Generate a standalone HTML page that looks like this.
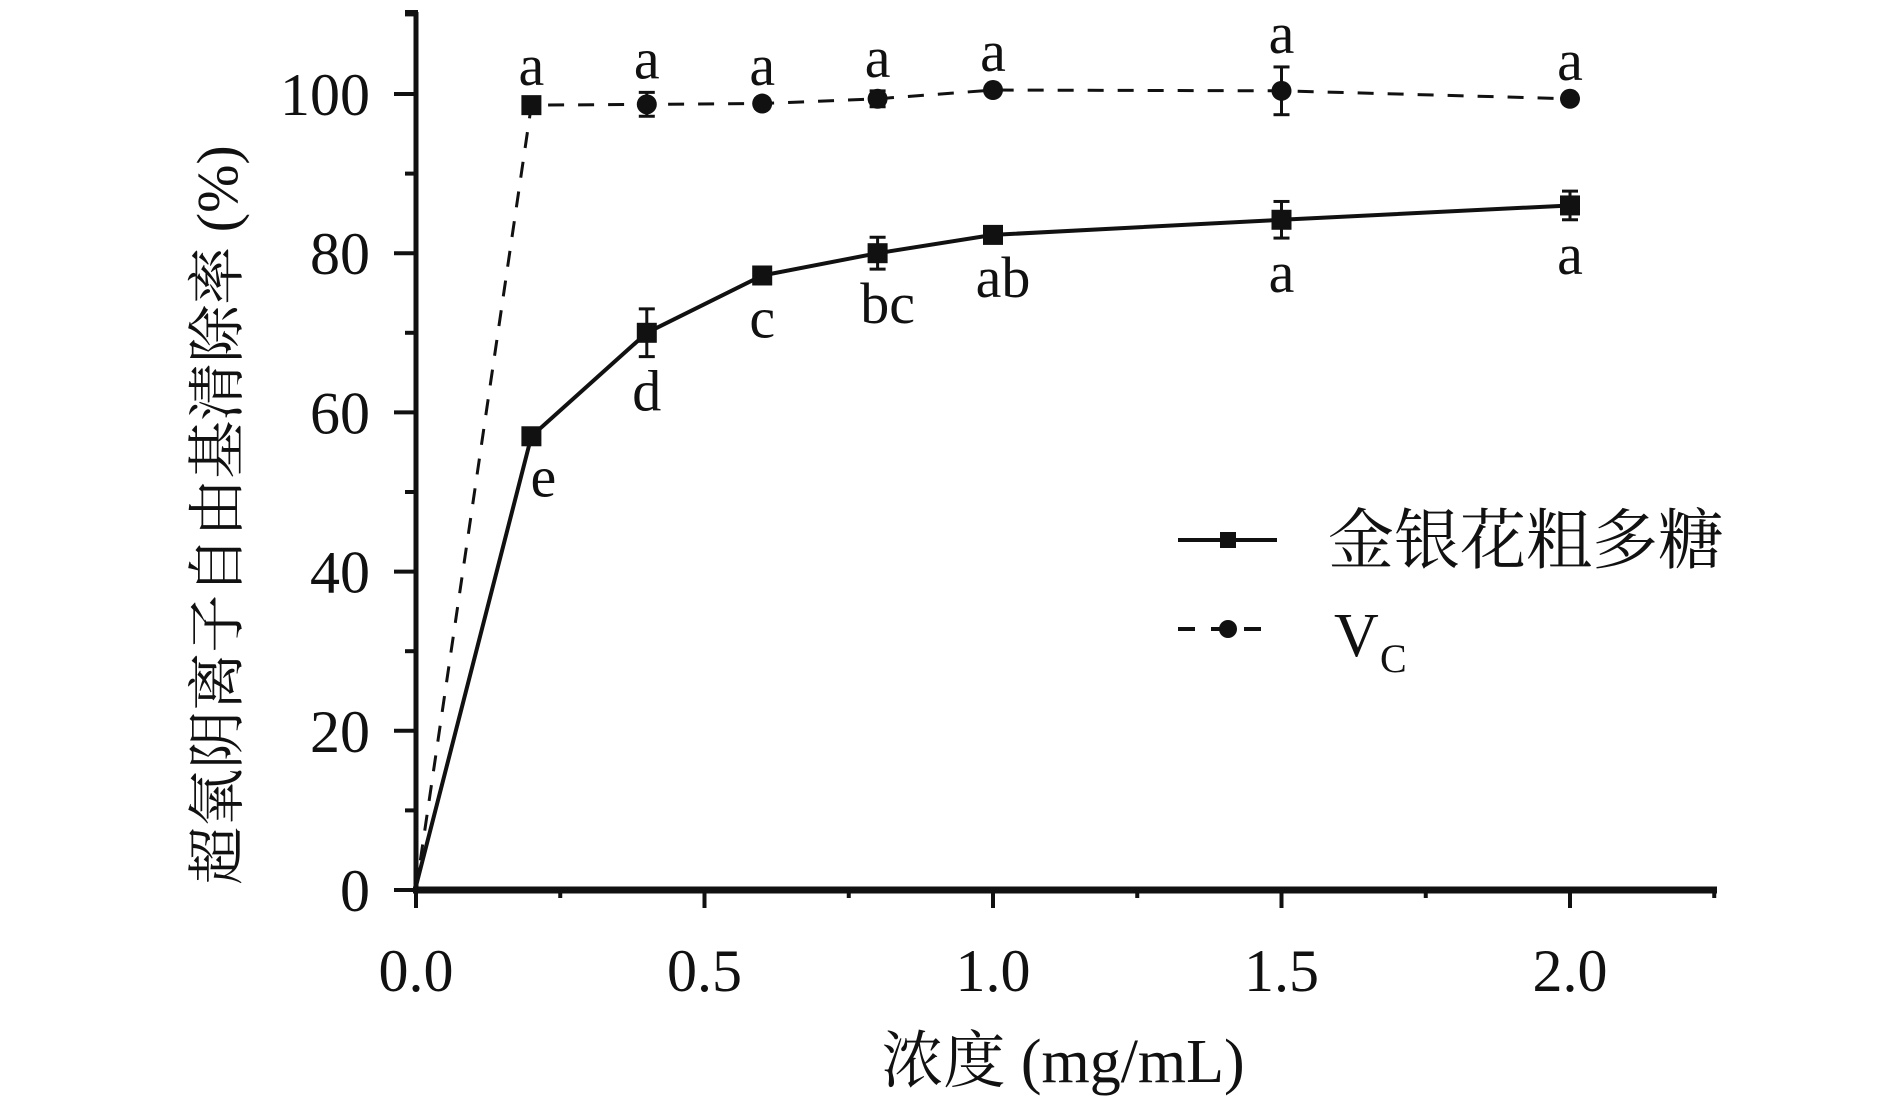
<!DOCTYPE html>
<html><head><meta charset="utf-8"><style>
html,body{margin:0;padding:0;background:#fff;}
svg{display:block;font-family:"Liberation Serif","Noto Serif CJK SC",serif;}
</style></head><body>
<svg id="chart" width="1890" height="1098" viewBox="0 0 1890 1098" xmlns="http://www.w3.org/2000/svg"></svg>
<script>
const xValues = [0, 0.2, 0.4, 0.6, 0.8, 1.0, 1.5, 2.0];
const polyValues = [0.5, 57, 70, 77.2, 80, 82.3, 84.2, 86];
const polyErr = [0, 0.8, 3, 1, 2, 1, 2.3, 1.8];
const polyLetters = ["", "e", "d", "c", "bc", "ab", "a", "a"];
const vcValues = [0, 98.6, 98.7, 98.8, 99.4, 100.5, 100.4, 99.4];
const vcErr = [0, 0.8, 1.5, 0.6, 1, 0.6, 3, 0.6];
const vcLetters = ["", "a", "a", "a", "a", "a", "a", "a"];
const xTicks = [0, 0.5, 1.0, 1.5, 2.0];
const xTickLabels = ["0.0", "0.5", "1.0", "1.5", "2.0"];
const yTicks = [0, 20, 40, 60, 80, 100];
const yTickLabels = ["0", "20", "40", "60", "80", "100"];

const svg = document.getElementById('chart');
const NS = 'http://www.w3.org/2000/svg';
function X(v){ return 416 + 577*v; }
function Y(v){ return 890 - 7.96*v; }
function mk(tag, attrs, parent){
  const e = document.createElementNS(NS, tag);
  for (const k in attrs) e.setAttribute(k, attrs[k]);
  (parent||svg).appendChild(e);
  return e;
}
function txt(s, x, y, size, anchor, parent){
  const t = mk('text', {x:x, y:y, 'font-size':size, 'text-anchor':anchor||'middle', fill:'#111'}, parent);
  t.textContent = s;
  return t;
}
const yAxis = mk('line', {x1:416, y1:12, x2:416, y2:893, stroke:'#111', 'stroke-width':5});


const xAxis = mk('line', {x1:413, y1:890, x2:1717, y2:890, stroke:'#111', 'stroke-width':7});


mk('line', {x1:405, y1:12, x2:418, y2:12, stroke:'#111', 'stroke-width':4});
for (let v = 0; v <= 110; v += 10) {
  const major = v % 20 === 0;
  mk('line', {x1: major ? 394 : 405, y1: Y(v), x2: 416, y2: Y(v), stroke:'#111', 'stroke-width':4});
}
yTicks.forEach((v,i)=>{
  const t = txt(yTickLabels[i], 370, Y(v)+21, 60, 'end');
  
  
});
for (let v = 0; v <= 2.25; v += 0.25) {
  const major = Math.abs(v*2 - Math.round(v*2)) < 1e-6;
  mk('line', {x1: X(v), y1: 890, x2: X(v), y2: major ? 908 : 898, stroke:'#111', 'stroke-width':4});
}
xTicks.forEach((v,i)=>{
  const t = txt(xTickLabels[i], X(v), 991, 60, 'middle');
  
  
});
const xt = txt('浓度 (mg/mL)', 1063, 1082, 62, 'middle');


const yt = txt('超氧阴离子自由基清除率 (%)', 0, 0, 58, 'middle');
yt.setAttribute('transform', 'translate(237,515) rotate(-90)');



function series(vals, errs, name, dashed, square, letters, above){
  const g = mk('g', {});
  
  
  const pts = xValues.map((x,i)=>X(x)+','+Y(vals[i])).join(' ');
  const line = mk('polyline', {points:pts, fill:'none', stroke:'#111', 'stroke-width': dashed?3:4, 'stroke-dasharray': dashed?'16,14':'none'}, g);
  
  
  xValues.forEach((x,i)=>{
    if (i === 0) return;
    const cx = X(x), cy = Y(vals[i]);
    if (errs[i] > 0) {
      const y1 = Y(vals[i]+errs[i]), y2 = Y(vals[i]-errs[i]);
      mk('line', {x1:cx, y1:y1, x2:cx, y2:y2, stroke:'#111', 'stroke-width':3}, g);
      mk('line', {x1:cx-8, y1:y1, x2:cx+8, y2:y1, stroke:'#111', 'stroke-width':3}, g);
      mk('line', {x1:cx-8, y1:y2, x2:cx+8, y2:y2, stroke:'#111', 'stroke-width':3}, g);
    }
    let m;
    if (square || i === 1) m = mk('rect', {x:cx-10, y:cy-10, width:20, height:20, fill:'#111'}, g);
    else m = mk('circle', {cx:cx, cy:cy, r:10, fill:'#111'}, g);
    
    
    const ly = above ? Y(vals[i]+errs[i]) - 14 : Y(vals[i]-errs[i]) + 54;
    const t = txt(letters[i], cx + (above?0:(i===1?12:i===4?10:i===5?10:0)), ly, 58, 'middle', g);
    
    
  });
}
series(vcValues, vcErr, 'vc-series', true, false, vcLetters, true);
series(polyValues, polyErr, 'polysaccharide-series', false, true, polyLetters, false);

const lg = mk('g', {});


const e1 = mk('g', {}, lg);


mk('line', {x1:1178, y1:540, x2:1277, y2:540, stroke:'#111', 'stroke-width':4}, e1);
mk('rect', {x:1220, y:532, width:16, height:16, fill:'#111'}, e1);
txt('金银花粗多糖', 1328, 563, 66, 'start', e1);
const e2 = mk('g', {}, lg);


mk('line', {x1:1178, y1:629, x2:1277, y2:629, stroke:'#111', 'stroke-width':4, 'stroke-dasharray':'17,16'}, e2);
mk('circle', {cx:1228, cy:629, r:9, fill:'#111'}, e2);
txt('V', 1334, 656, 62, 'start', e2);
txt('C', 1380, 672, 40, 'start', e2);
</script>
</body></html>
